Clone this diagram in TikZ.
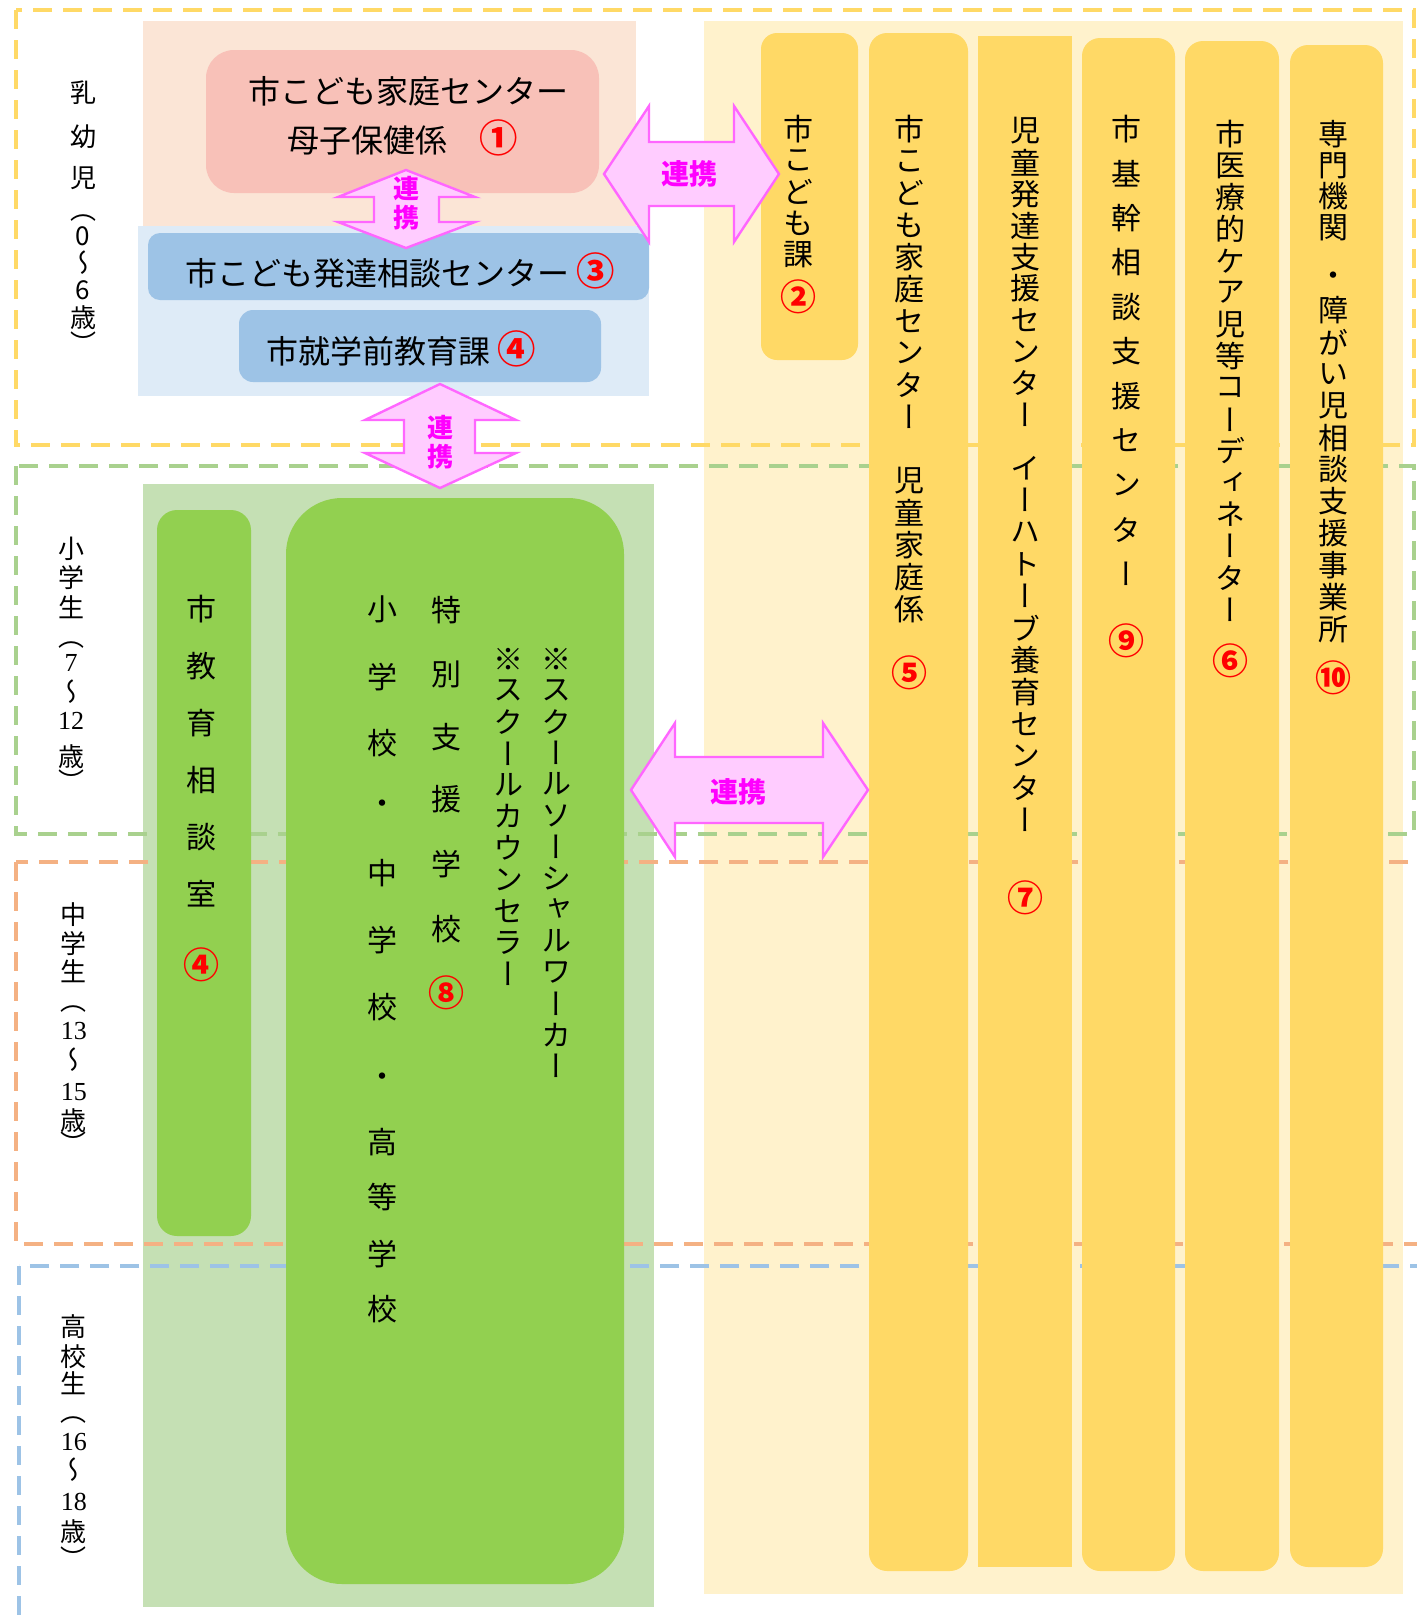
\documentclass[tikz,border=0pt]{standalone}
\usepackage{fontspec}
\setmainfont{Noto Sans CJK JP}
\newfontfamily\tatefont{Noto Sans CJK JP}[RawFeature=+vert]
\newfontfamily\numfont{Liberation Serif}
\usetikzlibrary{positioning}
\definecolor{frameyellow}{HTML}{FFD966}
\definecolor{framegreen}{HTML}{A9D18E}
\definecolor{frameorange}{HTML}{F4B183}
\definecolor{frameblue}{HTML}{9DC3E6}
\definecolor{peachbg}{HTML}{FBE5D6}
\definecolor{pinkbox}{HTML}{F8C1B8}
\definecolor{bluebg}{HTML}{DEEBF7}
\definecolor{bluebox}{HTML}{9DC3E6}
\definecolor{greenbg}{HTML}{C5E0B4}
\definecolor{greenbox}{HTML}{92D050}
\definecolor{yellowbg}{HTML}{FFF2CC}
\definecolor{yellowbox}{HTML}{FFD966}
\definecolor{renkeifill}{HTML}{FFCCFF}
\definecolor{renkeiline}{HTML}{FF66FF}
\definecolor{renkeitext}{HTML}{FF00FF}
\definecolor{numred}{HTML}{FF0000}
\tikzset{
  frame/.style={line width=2pt, dash pattern=on 9.5pt off 5.5pt}, % age frames
  biarrow/.style={fill=renkeifill, draw=renkeiline, line width=1.2pt},
  vch/.style={font=\tatefont\fontsize{15pt}{15pt}\selectfont, inner sep=0pt},
  age/.style={font=\tatefont\fontsize{13pt}{13pt}\selectfont, inner sep=0pt},
  htxt/.style={font=\fontsize{16pt}{16pt}\selectfont, inner sep=0pt},
  renkei/.style={font=\bfseries\fontsize{14pt}{14pt}\selectfont, text=renkeitext, inner sep=0pt},
  renkeiv/.style={renkei, align=center, font=\bfseries\fontsize{13pt}{14.5pt}\selectfont},
}
\newcommand\cnum[1]{\textcolor{numred}{\bfseries\scalebox{1.2}{#1}}}
% one column of vertical text: name, x, first y, step, characters
\newcommand\vcol[5]{\foreach \c [count=\i] in {#5} \node[vch] (#1-\i) at (#2,{#3+(\i-1)*#4}) {\c};}

\begin{document}
\begin{tikzpicture}[x=0.5pt,y=0.5pt,yscale=-1,xscale=1]
\useasboundingbox (0,0) rectangle (1417,1623);
\fill[white] (0,0) rectangle (1417,1623);
\clip (0,0) rectangle (1417,1623);

% backgrounds
\fill[peachbg] (143,21) rectangle (636,230);
\fill[bluebg] (138,226) rectangle (649,396);
\fill[greenbg] (143,484) rectangle (654,1607);
\fill[yellowbg] (704,21) rectangle (1403,1594);

% age frames
\draw[frame, frameyellow] (16,10) rectangle (1414,445);
\draw[frame, framegreen] (16,466) rectangle (1414,834);
\draw[frame, frameorange] (16,862) rectangle (1440,1244);
\draw[frame, frameblue] (19,1266) rectangle (1440,1660);

% boxes
\fill[pinkbox, rounded corners=14pt] (206,50) rectangle (599,193);
\fill[bluebox, rounded corners=6pt] (148,233) rectangle (649,300);
\fill[bluebox, rounded corners=7pt] (239,310) rectangle (601,382);
\fill[greenbox, rounded corners=10pt] (157,510) rectangle (251,1236);
\fill[greenbox, rounded corners=28pt] (286,498) rectangle (624,1584);
\fill[yellowbox, rounded corners=8pt] (761,33) rectangle (858,360);
\fill[yellowbox, rounded corners=9pt] (869,33) rectangle (968,1571);
\fill[yellowbox] (978,36) rectangle (1072,1567);
\fill[yellowbox, rounded corners=9pt] (1082,38) rectangle (1175,1571);
\fill[yellowbox, rounded corners=9pt] (1185,41) rectangle (1279,1571);
\fill[yellowbox, rounded corners=9pt] (1290,45) rectangle (1383,1567);

% arrows
\draw[biarrow] (604,174) -- (649,106) -- (649,142) -- (734,142) -- (734,106) -- (779,174)
  -- (734,242) -- (734,206) -- (649,206) -- (649,242) -- cycle;
\draw[biarrow] (631,790) -- (675,723) -- (675,757) -- (823,757) -- (823,723) -- (868,790)
  -- (823,857) -- (823,823) -- (675,823) -- (675,857) -- cycle;
\draw[biarrow] (406,170) -- (475,197) -- (439,197) -- (439,222) -- (475,222) -- (406,248)
  -- (338,222) -- (374,222) -- (374,197) -- (338,197) -- cycle;
\draw[biarrow] (440,384) -- (516,420) -- (475,420) -- (475,453) -- (516,453) -- (440,488)
  -- (365,453) -- (404,453) -- (404,420) -- (365,420) -- cycle;
\node[renkei] (rk1) at (689,174) {連携};
\node[renkei] (rk2) at (738,792) {連携};
\node[renkeiv] (rk3) at (406,203) {連\\携};
\node[renkeiv] (rk4) at (440,442) {連\\携};

% horizontal labels
\node[htxt] (kosodate) at (408,91) {市こども家庭センター};
\node[htxt] (boshi) at (403,138) {母子保健係　\cnum{①}};
\node[htxt] (hattatsu) at (400,271) {市こども発達相談センター \cnum{③}};
\node[htxt] (shugaku) at (401,349) {市就学前教育課 \cnum{④}};

% age labels
\foreach \c/\y [count=\i] in {乳/93,幼/137,児/178,（/218,0/236,～/263,6/290,歳/318,）/343}
  \node[age] (nyu-\i) at (83,\y) {\c};
\foreach \c/\y [count=\i] in {小/549,学/578,生/607,（/645,{\numfont 7}/663,～/692,{\numfont 12}/721,歳/757,）/781}
  \node[age] (sho-\i) at (71,\y) {\c};
\foreach \c/\y [count=\i] in {中/915,学/944,生/971,（/1009,{\numfont 13}/1031,～/1060,{\numfont 15}/1092,歳/1121,）/1143}
  \node[age] (chu-\i) at (74,\y) {\c};
\foreach \c/\y [count=\i] in {高/1327,校/1357,生/1383,（/1420,{\numfont 16}/1442,～/1470,{\numfont 18}/1502,歳/1532,）/1558}
  \node[age] (kou-\i) at (74,\y) {\c};

% school side
\foreach \c/\y [count=\i] in {市/609,教/666,育/723,相/780,談/837,室/894,\cnum{④}/965}
  \node[vch] (kyoiku-\i) at (201,\y) {\c};
\foreach \c/\y [count=\i] in {小/609,学/677,校/743,・/807,中/873,学/940,校/1007,・/1080,高/1142,等/1197,学/1254,校/1309}
  \node[vch] (gakko-\i) at (382,\y) {\c};
\foreach \c/\y [count=\i] in {特/610,別/674,支/737,援/799,学/864,校/929,\cnum{⑧}/993}
  \node[vch] (tokubetsu-\i) at (446,\y) {\c};
\vcol{counselor}{508}{659}{31.5}{※,ス,ク,ー,ル,カ,ウ,ン,セ,ラ,ー}
\vcol{social}{556}{659}{31.3}{※,ス,ク,ー,ル,ソ,ー,シ,ャ,ル,ワ,ー,カ,ー}

% right columns
\vcol{kodomo}{798}{129}{31.5}{市,こ,ど,も,課}
\node[vch] (kodomo-n) at (798,297) {\cnum{②}};
\vcol{katei}{909}{129}{32}{市,こ,ど,も,家,庭,セ,ン,タ,ー,{},児,童,家,庭,係,{},\cnum{⑤}}
\vcol{jido}{1025}{131}{31.5}{児,童,発,達,支,援,セ,ン,タ,ー}
\vcol{ihato}{1025}{468}{32}{イ,ー,ハ,ト,ー,ブ,養,育,セ,ン,タ,ー}
\node[vch] (ihato-n) at (1025,898) {\cnum{⑦}};
\vcol{kikan}{1126}{129}{44.5}{市,基,幹,相,談,支,援,セ,ン,タ,ー}
\node[vch] (kikan-n) at (1126,641) {\cnum{⑨}};
\vcol{iryo}{1230}{134}{31.7}{市,医,療,的,ケ,ア,児,等,コ,ー,デ,ィ,ネ,ー,タ,ー}
\node[vch] (iryo-n) at (1230,661) {\cnum{⑥}};
\vcol{senmon}{1333}{134}{31.3}{専,門,機,関}
\node[vch] (senmon-dot) at (1333,279) {・};
\vcol{shogai}{1333}{310}{31.9}{障,が,い,児,相,談,支,援,事,業,所}
\node[vch] (shogai-n) at (1333,678) {\cnum{⑩}};
\end{tikzpicture}
\end{document}
